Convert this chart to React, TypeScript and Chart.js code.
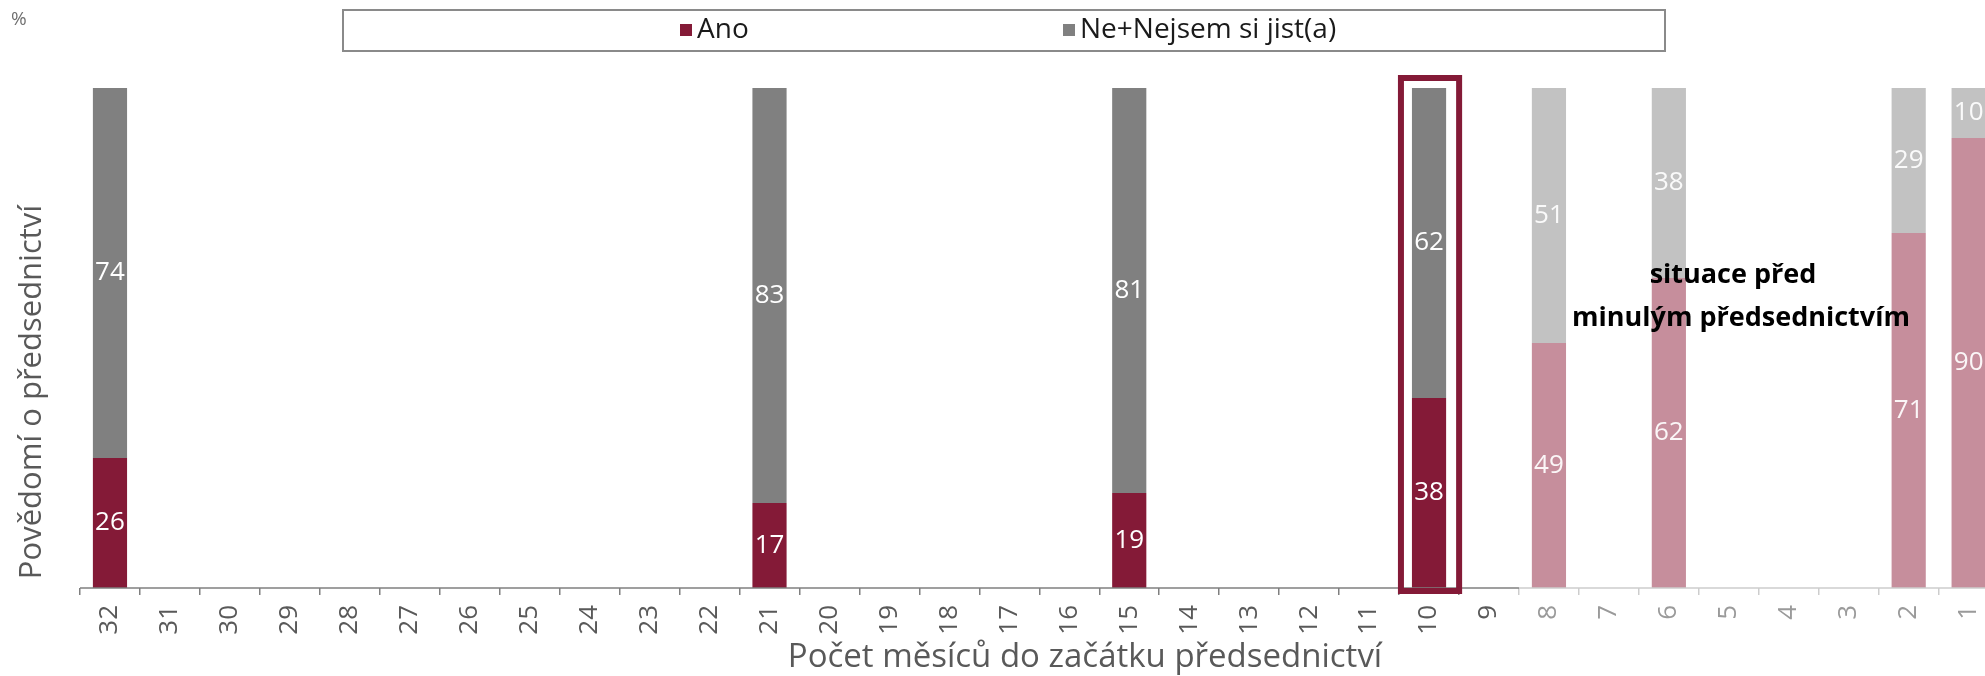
import React, { useEffect, useRef } from 'react';
import { Chart, registerables } from 'chart.js';

Chart.register(...registerables);

// ---- data ----
const months = ['32','31','30','29','28','27','26','25','24','23','22','21','20','19','18','17','16','15','14','13','12','11','10','9','8','7','6','5','4','3','2','1'];
const surveyMonths = ['32','21','15','10','8','6','2','1'];
const anoValues = [26, 17, 19, 38, 49, 62, 71, 90];
const neValues = [74, 83, 81, 62, 51, 38, 29, 10];
const pastMonths = ['8','6','2','1'];
const highlightedMonth = '10';
const seriesNames = ['Ano', 'Ne+Nejsem si jist(a)'];
const xTitle = 'Počet měsíců do začátku předsednictví';
const yTitle = 'Povědomí o předsednictví';
const unitLabel = '%';
const noteLines = ['situace před', 'minulým předsednictvím'];

// ---- style ----
const FONT = '"Open Sans", sans-serif';
const ANO = '#841A37';
const NE = '#808080';
const ANO_LIGHT = '#C68E9C';
const NE_LIGHT = '#C2C2C2';
const AXIS_DARK = '#7f7f7f';
const AXIS_LIGHT = '#cdcdcd';

const decorPlugin = {
  id: 'decor',
  afterDatasetsDraw(chart: any) {
    const ctx = chart.ctx;
    const area = chart.chartArea;
    const n = months.length;
    const cw = (area.right - area.left) / n;
    const pastStart = months.indexOf(pastMonths[0]);
    const split = area.left + cw * pastStart;

    ctx.save();
    // axis line
    ctx.lineWidth = 1.5;
    ctx.strokeStyle = AXIS_DARK;
    ctx.beginPath();
    ctx.moveTo(area.left, area.bottom);
    ctx.lineTo(split, area.bottom);
    ctx.stroke();
    ctx.strokeStyle = AXIS_LIGHT;
    ctx.beginPath();
    ctx.moveTo(split, area.bottom);
    ctx.lineTo(area.right, area.bottom);
    ctx.stroke();

    // data labels
    ctx.font = `26px ${FONT}`;
    ctx.textAlign = 'center';
    ctx.textBaseline = 'middle';
    chart.data.datasets.forEach((ds: any, di: number) => {
      const meta = chart.getDatasetMeta(di);
      meta.data.forEach((el: any, i: number) => {
        const v = ds.data[i];
        if (v === null || v === undefined) return;
        ctx.fillStyle = pastMonths.includes(months[i]) ? 'rgba(255,255,255,0.92)' : '#ffffff';
        ctx.fillText(String(v), el.x, (el.y + el.base) / 2);
      });
    });

    // highlight box
    const hi = months.indexOf(highlightedMonth);
    const bar = chart.getDatasetMeta(0).data[hi];
    if (bar) {
      const lw = 6;
      const left = bar.x - bar.width / 2 - 14;
      const right = bar.x + bar.width / 2 + 16;
      const top = area.top - 13;
      const bottom = area.bottom + 6;
      ctx.lineWidth = lw;
      ctx.strokeStyle = ANO;
      ctx.strokeRect(left + lw / 2, top + lw / 2, right - left - lw, bottom - top - lw);
    }

    // unit label
    ctx.fillStyle = '#6f6f6f';
    ctx.font = `19px ${FONT}`;
    ctx.textAlign = 'left';
    ctx.textBaseline = 'middle';
    ctx.fillText(unitLabel, 11, 20);

    // legend
    ctx.lineWidth = 2;
    ctx.strokeStyle = '#8a8a8a';
    ctx.strokeRect(343, 10, 1322, 41);
    const legendItems = [
      { x: 680, color: ANO },
      { x: 1063, color: NE },
    ];
    ctx.font = `28px ${FONT}`;
    legendItems.forEach((it, k) => {
      ctx.fillStyle = it.color;
      ctx.fillRect(it.x, 24, 12, 12);
      ctx.fillStyle = '#1a1a1a';
      ctx.fillText(seriesNames[k], it.x + 17, 30);
    });

    // y title
    ctx.save();
    ctx.translate(32, 392);
    ctx.rotate(-Math.PI / 2);
    ctx.font = `31px ${FONT}`;
    ctx.fillStyle = '#595959';
    ctx.textAlign = 'center';
    ctx.textBaseline = 'middle';
    ctx.fillText(yTitle, 0, 0);
    ctx.restore();

    // x title
    ctx.font = `33px ${FONT}`;
    ctx.fillStyle = '#595959';
    ctx.textAlign = 'center';
    ctx.textBaseline = 'middle';
    ctx.fillText(xTitle, 1085, 658);

    // note
    ctx.font = `bold 27px ${FONT}`;
    ctx.fillStyle = '#000000';
    ctx.fillText(noteLines[0], 1733, 275);
    ctx.fillText(noteLines[1], 1741, 318);

    ctx.restore();
  },
};

export default function App() {
  const ref = useRef<HTMLCanvasElement>(null);

  useEffect(() => {
    const canvas = ref.current;
    if (!canvas) return;
    const pick = (vals: number[]) =>
      months.map((m) => {
        const k = surveyMonths.indexOf(m);
        return k < 0 ? null : vals[k];
      });
    const pastStart = months.indexOf(pastMonths[0]);
    const chart = new Chart(canvas, {
      type: 'bar',
      data: {
        labels: months,
        datasets: [
          {
            label: seriesNames[0],
            data: pick(anoValues),
            backgroundColor: months.map((m) => (pastMonths.includes(m) ? ANO_LIGHT : ANO)),
            barPercentage: 0.57,
            categoryPercentage: 1,
          },
          {
            label: seriesNames[1],
            data: pick(neValues),
            backgroundColor: months.map((m) => (pastMonths.includes(m) ? NE_LIGHT : NE)),
            barPercentage: 0.57,
            categoryPercentage: 1,
          },
        ],
      },
      options: {
        responsive: false,
        animation: false,
        layout: { padding: { left: 80, right: 10, top: 88, bottom: 0 } },
        plugins: { legend: { display: false }, tooltip: { enabled: false } },
        scales: {
          x: {
            stacked: true,
            border: { display: false },
            grid: {
              display: true,
              drawOnChartArea: false,
              drawTicks: true,
              tickLength: 7,
              offset: true,
              lineWidth: 1.5,
              color: (c: any) =>
                c.index === undefined || c.index >= pastStart ? AXIS_LIGHT : AXIS_DARK,
            },
            ticks: {
              autoSkip: false,
              minRotation: 90,
              maxRotation: 90,
              padding: 10,
              font: { family: FONT, size: 26 },
              color: (c: any) => (c.index >= pastStart ? '#9a9a9a' : '#595959'),
            },
            afterFit: (s: any) => {
              s.height = 88;
            },
          },
          y: { stacked: true, display: false, min: 0, max: 100 },
        },
      },
      plugins: [decorPlugin],
    });
    return () => chart.destroy();
  }, []);

  return (
    <div
      style={{
        position: 'fixed',
        left: 0,
        top: 0,
        width: 1985,
        height: 676,
        overflow: 'hidden',
        background: '#ffffff',
      }}
    >
      <canvas ref={ref} width={2010} height={676} style={{ display: 'block' }} />
    </div>
  );
}
